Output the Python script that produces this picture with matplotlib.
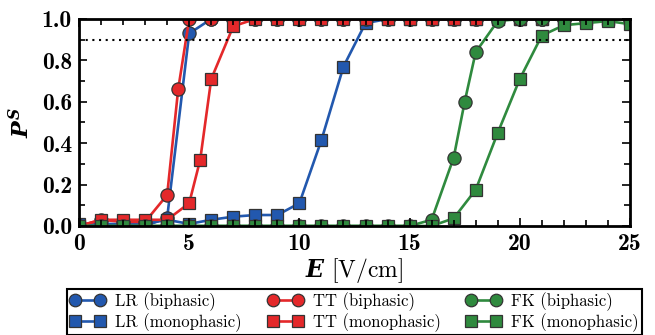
import numpy as np
import matplotlib
matplotlib.use('Agg')
import matplotlib.pyplot as plt
from matplotlib.ticker import MultipleLocator

# field strength values (V/cm)
E_lr_bi = [0, 1, 2, 3, 4, 5, 6, 7, 8, 9, 10, 11, 12, 13, 14, 15, 16, 17, 18, 19, 20, 21, 22, 23, 24, 25]
P_lr_bi = [0.0, 0.0, 0.0, 0.0, 0.04, 0.93, 1.0, 1.0, 1.0, 1.0, 1.0, 1.0, 1.0, 1.0, 1.0, 1.0, 1.0, 1.0, 1.0, 1.0, 1.0, 1.0, 1.0, 1.0, 1.0, 1.0]

E_lr_mono = [0, 1, 2, 3, 4, 5, 6, 7, 8, 9, 10, 11, 12, 13, 14, 15, 16, 17, 18, 19, 20, 21, 22, 23, 24, 25]
P_lr_mono = [0.01, 0.01, 0.01, 0.01, 0.03, 0.01, 0.03, 0.045, 0.053, 0.053, 0.11, 0.415, 0.77, 0.98, 1.0, 1.0, 1.0, 1.0, 1.0, 1.0, 1.0, 1.0, 1.0, 1.0, 1.0, 1.0]

E_tt_bi = [0, 1, 2, 3, 4, 4.5, 5, 6, 7, 8, 9, 10, 11, 12, 13, 14, 15, 16, 17, 18, 19, 20, 21, 22, 23, 24, 25]
P_tt_bi = [0.0, 0.03, 0.02, 0.02, 0.15, 0.66, 1.0, 1.0, 1.0, 1.0, 1.0, 1.0, 1.0, 1.0, 1.0, 1.0, 1.0, 1.0, 1.0, 1.0, 1.0, 1.0, 1.0, 1.0, 1.0, 1.0, 1.0]

E_tt_mono = [0, 1, 2, 3, 4, 5, 5.5, 6, 7, 8, 9, 10, 11, 12, 13, 14, 15, 16, 17, 18, 19, 20, 21, 22, 23, 24, 25]
P_tt_mono = [0.0, 0.03, 0.03, 0.03, 0.03, 0.11, 0.32, 0.71, 0.965, 1.0, 1.0, 1.0, 1.0, 1.0, 1.0, 1.0, 1.0, 1.0, 1.0, 1.0, 1.0, 1.0, 1.0, 1.0, 1.0, 1.0, 1.0]

E_fk_bi = [0, 1, 2, 3, 4, 5, 6, 7, 8, 9, 10, 11, 12, 13, 14, 15, 16, 17, 17.5, 18, 19, 20, 21, 22, 23, 24, 25]
P_fk_bi = [0.0, 0.0, 0.0, 0.0, 0.0, 0.0, 0.0, 0.0, 0.0, 0.0, 0.0, 0.0, 0.0, 0.0, 0.0, 0.0, 0.03, 0.33, 0.6, 0.84, 0.99, 1.0, 1.0, 1.0, 1.0, 1.0, 1.0]

E_fk_mono = [0, 1, 2, 3, 4, 5, 6, 7, 8, 9, 10, 11, 12, 13, 14, 15, 16, 17, 18, 19, 20, 21, 22, 23, 24, 25]
P_fk_mono = [0.0, 0.0, 0.0, 0.0, 0.0, 0.0, 0.0, 0.0, 0.0, 0.0, 0.0, 0.0, 0.0, 0.0, 0.0, 0.0, 0.0, 0.037, 0.175, 0.45, 0.71, 0.92, 0.97, 0.98, 0.99, 0.975]

threshold = 0.9

blue = '#2258ae'
red = '#e4282a'
green = '#2f8a3e'

plt.rcParams['mathtext.fontset'] = 'custom'
plt.rcParams['mathtext.it'] = 'DejaVu Serif:italic:bold'
plt.rcParams['mathtext.rm'] = 'cmr10'
plt.rcParams['mathtext.bf'] = 'DejaVu Serif:bold'

fig = plt.figure(figsize=(6.55, 3.35), dpi=100)
ax = fig.add_axes([0.1206, 0.3254, 0.8412, 0.6179])

series = [
    (E_lr_bi, P_lr_bi, blue, 'o', 'LR (biphasic)'),
    (E_lr_mono, P_lr_mono, blue, 's', 'LR (monophasic)'),
    (E_tt_bi, P_tt_bi, red, 'o', 'TT (biphasic)'),
    (E_tt_mono, P_tt_mono, red, 's', 'TT (monophasic)'),
    (E_fk_bi, P_fk_bi, green, 'o', 'FK (biphasic)'),
    (E_fk_mono, P_fk_mono, green, 's', 'FK (monophasic)'),
]

handles = []
for x, y, c, m, lab in series:
    h, = ax.plot(x, y, color=c, lw=1.9, marker=m, ms=9.5 if m == 'o' else 9,
                 mfc=c, mec='#333333', mew=0.9, label=lab)
    handles.append(h)

ax.axhline(threshold, color='black', ls=(0, (1, 2.2)), lw=1.5)

ax.set_xlim(0, 25)
ax.set_ylim(0, 1.0)
ax.xaxis.set_major_locator(MultipleLocator(5))
ax.xaxis.set_minor_locator(MultipleLocator(1))
ax.yaxis.set_major_locator(MultipleLocator(0.2))
ax.yaxis.set_minor_locator(MultipleLocator(0.1))
ax.tick_params(which='both', direction='in', top=True, right=True, width=1.2)
ax.tick_params(which='major', length=6)
ax.tick_params(which='minor', length=4)
ax.tick_params(labelsize=17, pad=5)
for lbl in ax.get_xticklabels() + ax.get_yticklabels():
    lbl.set_family('cmb10')
ax.set_axisbelow(False)
for sp in ax.spines.values():
    sp.set_linewidth(2)

ax.set_xlabel(r'$E$ [V/cm]', fontsize=17, family='cmr10', labelpad=1)
ax.set_ylabel(r'$P^S$', fontsize=16, labelpad=6)

# legend box spans wider than the axes, below the x label
leg = fig.legend(handles=handles, ncol=3, loc='center',
                 bbox_to_anchor=(0.1023, 0.003, 0.878, 0.131), mode='expand',
                 numpoints=2, handlelength=2.1, handletextpad=0.6,
                 prop={'family': 'cmr10', 'size': 12}, frameon=True,
                 fancybox=False, edgecolor='black', framealpha=1,
                 borderaxespad=0, labelspacing=0.15, borderpad=0.2,
                 markerscale=0.95)
leg.get_frame().set_linewidth(1.5)

fig.savefig('out.png', dpi=100)
